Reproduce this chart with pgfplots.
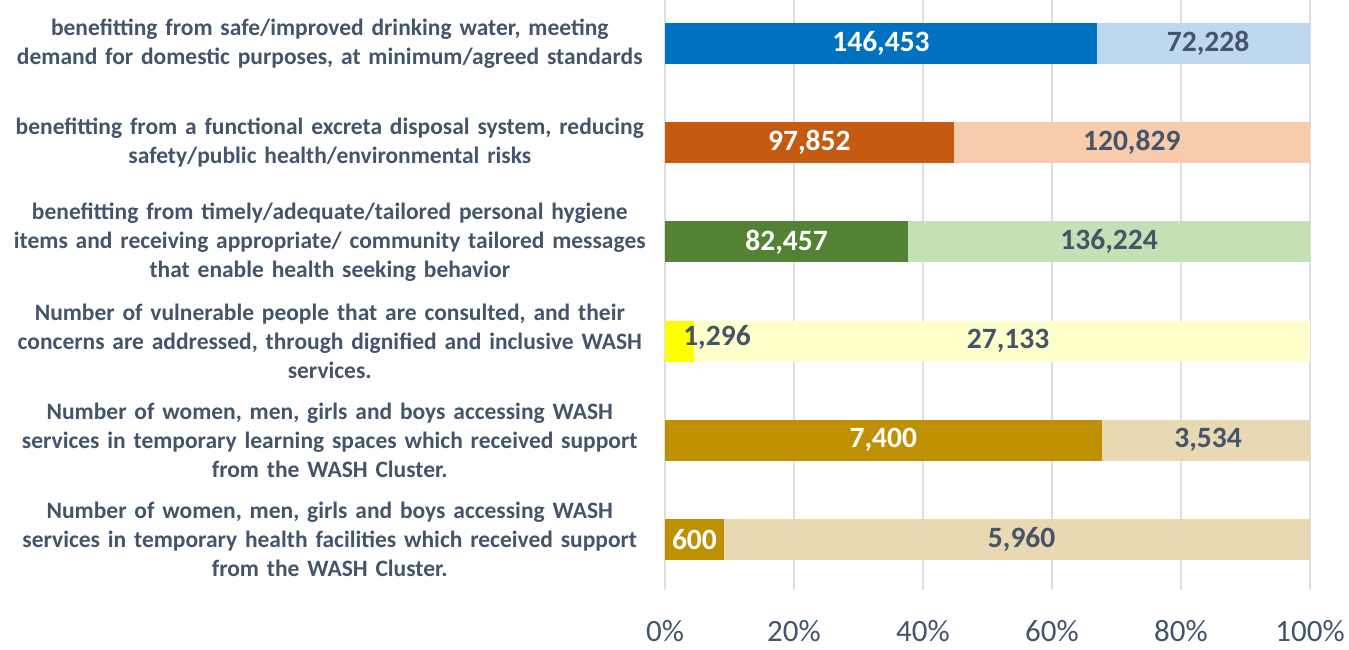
\documentclass[border=0pt]{standalone}
\usepackage{pgfplots}
\pgfplotsset{compat=1.18}
\usepackage{fontspec}
\setmainfont{Carlito}
\definecolor{slate}{HTML}{44546A}
\definecolor{gridc}{HTML}{DCE0E6}
\definecolor{d1}{HTML}{0070C0}\definecolor{l1}{HTML}{BDD7EE}
\definecolor{d2}{HTML}{C55A11}\definecolor{l2}{HTML}{F8CBAD}
\definecolor{d3}{HTML}{548235}\definecolor{l3}{HTML}{C5E0B4}
\definecolor{d4}{HTML}{FFFF00}\definecolor{l4}{HTML}{FFFFCC}
\definecolor{d5}{HTML}{BF9000}\definecolor{l5}{HTML}{E8D9B2}
\hyphenpenalty=10000
\exhyphenpenalty=10000
\begin{document}
\begin{tikzpicture}
\path[use as bounding box] (-665pt,-60pt) rectangle (684pt,590pt);
\begin{axis}[
  at={(0,0)}, anchor=south west,
  scale only axis, width=645pt, height=590pt,
  xmin=0, xmax=100, ymin=0.5615, ymax=6.509, y dir=reverse,
  axis line style={draw=none},
  major tick length=0pt,
  xtick={0,20,40,60,80,100},
  xticklabels={0\%,20\%,40\%,60\%,80\%,100\%},
  xticklabel style={anchor=base, yshift=-51pt, font=\fontsize{31}{36}\selectfont, text=slate},
  xmajorgrids, grid style={gridc, line width=1.5pt},
  ytick={1,2,3,4,5,6},
  yticklabels={
    {benefitting from safe/improved drinking water, meeting\\demand for domestic purposes, at minimum/agreed standards},
    {benefitting from a functional excreta disposal system, reducing\\safety/public health/environmental risks},
    {benefitting from timely/adequate/tailored personal hygiene\\items and receiving appropriate/ community tailored messages\\that enable health seeking behavior},
    {Number of vulnerable people that are consulted, and their\\concerns are addressed, through dignified and inclusive WASH\\services.},
    {Number of women, men, girls and boys accessing WASH\\services in temporary learning spaces which received support\\from the WASH Cluster.},
    {Number of women, men, girls and boys accessing WASH\\services in temporary health facilities which received support\\from the WASH Cluster.}},
  yticklabel style={align=center, text width=640pt, anchor=east, inner sep=0pt, xshift=-15pt,
    font=\fontsize{23.5}{29}\selectfont\bfseries, text=slate},
  every axis plot/.append style={xbar, bar shift=0pt, bar width=41pt, draw=none},
  clip=false,
]
% full (light) bars = total, dark bars = achieved share in percent
\addplot[fill=l1] coordinates {(100,1)};
\addplot[fill=d1] coordinates {(66.971,1)};
\addplot[fill=l2] coordinates {(100,2)};
\addplot[fill=d2] coordinates {(44.746,2)};
\addplot[fill=l3] coordinates {(100,3)};
\addplot[fill=d3] coordinates {(37.707,3)};
\addplot[fill=l4] coordinates {(100,4)};
\addplot[fill=d4] coordinates {(4.559,4)};
\addplot[fill=l5] coordinates {(100,5)};
\addplot[fill=d5] coordinates {(67.679,5)};
\addplot[fill=l5] coordinates {(100,6)};
\addplot[fill=d5] coordinates {(9.146,6)};
\begin{scope}[every node/.style={font=\fontsize{29.5}{34}\selectfont\bfseries, inner sep=0pt}]
\node[white] at (axis cs:33.49,1) {146,453};
\node[slate] at (axis cs:84.2,1) {72,228};
\node[white] at (axis cs:22.37,2) {97,852};
\node[slate] at (axis cs:72.37,2) {120,829};
\node[white] at (axis cs:18.85,3) {82,457};
\node[slate] at (axis cs:68.85,3) {136,224};
\node[slate] at (axis cs:8.06,3.96) {1,296};
\node[slate] at (axis cs:53.2,4) {27,133};
\node[white] at (axis cs:33.84,5) {7,400};
\node[slate] at (axis cs:84.2,5) {3,534};
\node[white] at (axis cs:4.57,6) {600};
\node[slate] at (axis cs:55.3,6) {5,960};
\end{scope}
\end{axis}
\end{tikzpicture}
\end{document}
